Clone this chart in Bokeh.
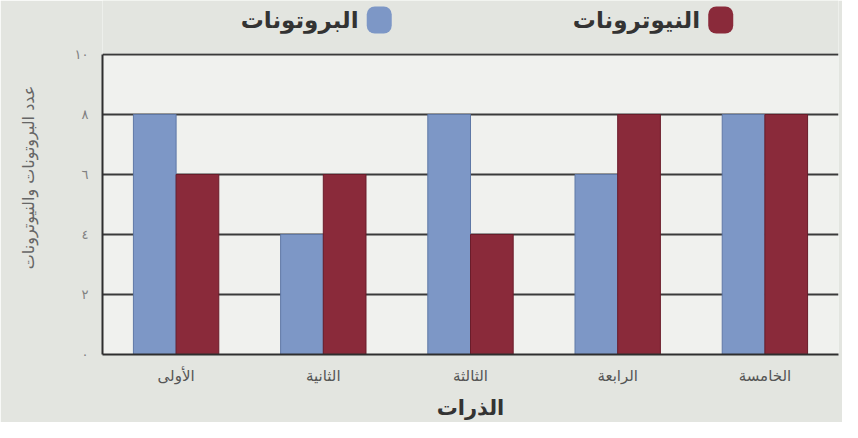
from bokeh.plotting import figure
from bokeh.models import FactorRange, FixedTicker, Label, BoxAnnotation, Range1d
from bokeh.transform import dodge
from bokeh.embed import file_html
from bokeh.resources import INLINE

atoms = ["الأولى", "الثانية", "الثالثة", "الرابعة", "الخامسة"]
protons = [8, 4, 8, 6, 8]
neutrons = [6, 6, 4, 8, 8]
y_ticks = [0, 2, 4, 6, 8, 10]
y_tick_labels = ["٠", "٢", "٤", "٦", "٨", "١٠"]
series_names = ["البروتونات", "النيوترونات"]
x_title = "الذرات"
y_title = "عدد البروتونات والنيوترونات"

P_COL = "#7d97c6"
N_COL = "#8a2a3a"
AR_FONT = "DejaVu Sans"

p = figure(
    width=842, height=422,
    x_range=FactorRange(*atoms, range_padding=0),
    y_range=Range1d(0, 11.8),
    output_backend="svg", toolbar_location=None,
    min_border_left=102, min_border_right=4, min_border_top=0, min_border_bottom=68,
)
p.background_fill_color = "#f0f1ee"
p.border_fill_color = "#e3e5e0"
p.outline_line_color = None

p.add_layout(BoxAnnotation(bottom=10.04, fill_color="#e3e5e0", fill_alpha=1,
                           line_color=None, level="underlay"))

src = dict(atoms=atoms, protons=protons, neutrons=neutrons)
p.vbar(x=dodge("atoms", -0.145, range=p.x_range), top="protons", width=0.29,
       source=src, color=P_COL, line_color="#5f78a6", line_width=1)
p.vbar(x=dodge("atoms", 0.145, range=p.x_range), top="neutrons", width=0.29,
       source=src, color=N_COL, line_color="#6a1c2a", line_width=1)

p.xgrid.visible = False
p.ygrid.ticker = FixedTicker(ticks=y_ticks[1:])
p.ygrid.grid_line_color = "#3a3a3a"
p.ygrid.grid_line_width = 2

p.yaxis.ticker = FixedTicker(ticks=y_ticks)
p.yaxis.major_label_overrides = {t: l for t, l in zip(y_ticks, y_tick_labels)}
p.yaxis.bounds = (0, 10)
p.yaxis.axis_line_color = "#2e2e2e"
p.yaxis.axis_line_width = 2
p.yaxis.major_tick_line_color = None
p.yaxis.minor_tick_line_color = None
p.yaxis.major_label_text_font = AR_FONT
p.yaxis.major_label_text_font_size = "13px"
p.yaxis.major_label_text_color = "#808080"
p.yaxis.major_label_standoff = 8
p.yaxis.axis_label = y_title
p.yaxis.axis_label_text_font = AR_FONT
p.yaxis.axis_label_text_font_style = "normal"
p.yaxis.axis_label_text_font_size = "16px"
p.yaxis.axis_label_text_color = "#666666"
p.yaxis.axis_label_standoff = 34

p.xaxis.axis_line_color = "#2e2e2e"
p.xaxis.axis_line_width = 2
p.xaxis.major_tick_line_color = None
p.xaxis.minor_tick_line_color = None
p.xaxis.major_label_text_font = AR_FONT
p.xaxis.major_label_text_font_size = "15px"
p.xaxis.major_label_text_color = "#555555"
p.xaxis.major_label_standoff = 6
p.xaxis.axis_label = x_title
p.xaxis.axis_label_text_font = AR_FONT
p.xaxis.axis_label_text_font_style = "bold"
p.xaxis.axis_label_text_font_size = "21px"
p.xaxis.axis_label_text_color = "#333333"
p.xaxis.axis_label_standoff = 8

# RTL legend: text then swatch on its right
legend_y = 11.15
for name, col, sx, tx in [(series_names[1], N_COL, 4.2, 4.06),
                          (series_names[0], P_COL, 1.88, 1.74)]:
    p.add_layout(Label(x=sx, y=legend_y, text="\u2003", text_font_size="17px",
                       text_align="center", text_baseline="middle",
                       background_fill_color=col, background_fill_alpha=1,
                       border_line_color=None, padding=4, border_radius=8))
    p.add_layout(Label(x=tx, y=legend_y, text=name, text_font=AR_FONT,
                       text_font_size="23px", text_font_style="bold",
                       text_color="#333333", text_align="right",
                       text_baseline="middle"))

open("out.html", "w").write(file_html(p, INLINE))
